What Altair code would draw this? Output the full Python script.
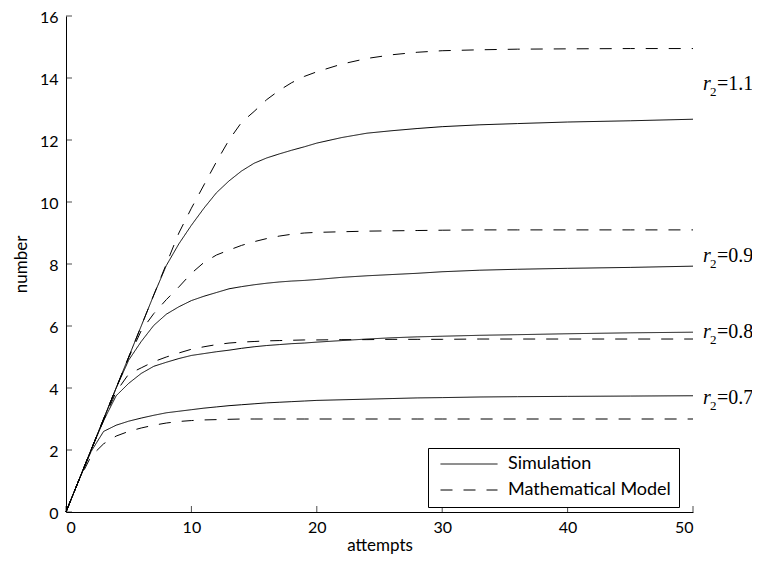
import altair as alt
import pandas as pd

# ---------------- data ----------------
attempts = [0, 1, 2, 3, 4, 5, 6, 7, 8, 9, 10, 11, 12, 13, 14, 15, 16, 17, 18, 19,
            20, 22, 24, 26, 28, 30, 33, 36, 40, 45, 50]

sim_11 = [0, 1, 2, 3, 4, 5, 6, 7, 7.95, 8.65, 9.25, 9.8, 10.3, 10.68, 11.0, 11.25,
          11.42, 11.55, 11.67, 11.78, 11.9, 12.08, 12.22, 12.3, 12.37, 12.43, 12.49,
          12.53, 12.58, 12.62, 12.67]
model_11 = [0, 1, 2, 3, 4, 5, 6, 7, 8, 9.0, 9.8, 10.55, 11.3, 12.0, 12.57, 12.92,
            13.3, 13.6, 13.85, 14.05, 14.2, 14.45, 14.63, 14.75, 14.83, 14.88, 14.91,
            14.93, 14.94, 14.95, 14.95]

sim_09 = [0, 1, 2, 3, 4, 4.9, 5.5, 6.02, 6.38, 6.62, 6.82, 6.96, 7.08, 7.2, 7.27, 7.33,
          7.38, 7.42, 7.45, 7.47, 7.5, 7.57, 7.62, 7.66, 7.7, 7.75, 7.8, 7.83, 7.86,
          7.89, 7.93]
model_09 = [0, 1, 2, 3, 4, 4.98, 5.85, 6.4, 6.85, 7.26, 7.7, 8.05, 8.29, 8.45, 8.6,
            8.72, 8.82, 8.9, 8.96, 9.0, 9.02, 9.04, 9.06, 9.07, 9.08, 9.09, 9.1, 9.1,
            9.1, 9.1, 9.1]

sim_08 = [0, 1, 2, 2.95, 3.75, 4.15, 4.47, 4.7, 4.83, 4.95, 5.05, 5.11, 5.17, 5.22,
          5.28, 5.33, 5.37, 5.4, 5.43, 5.45, 5.48, 5.53, 5.58, 5.62, 5.65, 5.67, 5.7,
          5.72, 5.75, 5.78, 5.8]
model_08 = [0, 1, 2, 2.95, 3.88, 4.45, 4.65, 4.85, 5.0, 5.13, 5.25, 5.33, 5.4, 5.45,
            5.48, 5.5, 5.52, 5.53, 5.54, 5.55, 5.55, 5.56, 5.56, 5.57, 5.57, 5.57, 5.58,
            5.58, 5.58, 5.58, 5.58]

sim_07 = [0, 1, 1.95, 2.6, 2.8, 2.93, 3.03, 3.12, 3.2, 3.25, 3.3, 3.35, 3.39, 3.43,
          3.46, 3.49, 3.52, 3.54, 3.56, 3.58, 3.6, 3.62, 3.64, 3.66, 3.68, 3.69, 3.71,
          3.72, 3.73, 3.74, 3.75]
model_07 = [0, 1, 1.8, 2.2, 2.45, 2.6, 2.71, 2.8, 2.87, 2.92, 2.95, 2.97, 2.98,
            2.99, 3.0, 3.0, 3.0, 3.0, 3.0, 3.0, 3.0, 3.0, 3.0, 3.0, 3.0, 3.0, 3.0, 3.0,
            3.0, 3.0, 3.0]

kinds = ["Simulation", "Mathematical Model"]
r2_values = ["1.1", "0.9", "0.8", "0.7"]
label_x = [50, 50, 50, 50]
label_y = [13.6, 8.07, 5.6, 3.5]

x_ticks = [0, 10, 20, 30, 40, 50]
y_ticks = [0, 2, 4, 6, 8, 10, 12, 14, 16]

# ---------------- build tables ----------------
series = {
    ("1.1", "Simulation"): sim_11, ("1.1", "Mathematical Model"): model_11,
    ("0.9", "Simulation"): sim_09, ("0.9", "Mathematical Model"): model_09,
    ("0.8", "Simulation"): sim_08, ("0.8", "Mathematical Model"): model_08,
    ("0.7", "Simulation"): sim_07, ("0.7", "Mathematical Model"): model_07,
}
rows = []
for (r, k), vals in series.items():
    for a, v in zip(attempts, vals):
        rows.append({"attempts": a, "number": v, "kind": k, "curve": f"{k} {r}"})
df = pd.DataFrame(rows)

labels = pd.DataFrame({"x": label_x, "y": label_y, "val": ["=" + v for v in r2_values]})
xt = pd.DataFrame({"t": x_ticks})
yt = pd.DataFrame({"t": y_ticks})

W, H = 627, 496
FONT = "Lato"

xscale = alt.Scale(domain=[0, 50], nice=False)
yscale = alt.Scale(domain=[0, 16], nice=False)

lines = alt.Chart(df).mark_line(color="black", strokeWidth=1).encode(
    x=alt.X("attempts:Q", scale=xscale,
            axis=alt.Axis(values=x_ticks, title="attempts", ticks=False, grid=False,
                          labelPadding=7, titleY=38, titleBaseline="alphabetic")),
    y=alt.Y("number:Q", scale=yscale,
            axis=alt.Axis(values=y_ticks, title="number", ticks=False, grid=False,
                          labelPadding=8, labelOffset=1.5, titlePadding=9)),
    strokeDash=alt.StrokeDash(
        "kind:N",
        scale=alt.Scale(domain=kinds, range=[[1, 0], [12, 11]]),
        legend=alt.Legend(
            orient="none", legendX=362, legendY=432, title=None,
            strokeColor="black", fillColor="white", padding=8, cornerRadius=0,
            symbolType="stroke", symbolSize=3249, symbolStrokeWidth=1,
            symbolStrokeColor="black", clipHeight=16, rowPadding=8,
            symbolOffset=4, labelOffset=10, labelFontSize=18, labelFont=FONT,
            labelColor="black", labelLimit=400,
        ),
    ),
    detail="curve:N",
)

xticks = alt.Chart(xt).mark_tick(color="black", size=6, thickness=1).encode(
    x=alt.X("t:Q", scale=xscale), y=alt.value(H - 3)
)
yticks = alt.Chart(yt).mark_tick(color="black", size=6, thickness=1).encode(
    y=alt.Y("t:Q", scale=yscale), x=alt.value(3)
)

r_text = alt.Chart(labels).mark_text(
    text="r", align="left", baseline="alphabetic", font="Liberation Serif",
    fontStyle="italic", fontSize=20, dx=10, color="black"
).encode(x="x:Q", y="y:Q")
sub_text = alt.Chart(labels).mark_text(
    text="2", align="left", baseline="alphabetic", font="Liberation Serif",
    fontSize=13, dx=17, dy=6, color="black"
).encode(x="x:Q", y="y:Q")
val_text = alt.Chart(labels).mark_text(
    align="left", baseline="alphabetic", font="Liberation Serif",
    fontSize=20, dx=24, color="black"
).encode(x="x:Q", y="y:Q", text="val:N")

chart = alt.layer(lines, xticks, yticks, r_text, sub_text, val_text).properties(
    width=W, height=H,
    autosize=alt.AutoSizeParams(type="none"),
    padding={"left": 58, "top": 8, "right": 59, "bottom": 42},
).configure_view(stroke=None).configure_axis(
    domainColor="black", domainWidth=1, labelColor="black", titleColor="black",
    labelFont=FONT, titleFont=FONT, labelFontSize=16, titleFontSize=17,
    titleFontWeight="normal",
)

chart.save("out.html", embed_options={"renderer": "svg", "actions": False})
